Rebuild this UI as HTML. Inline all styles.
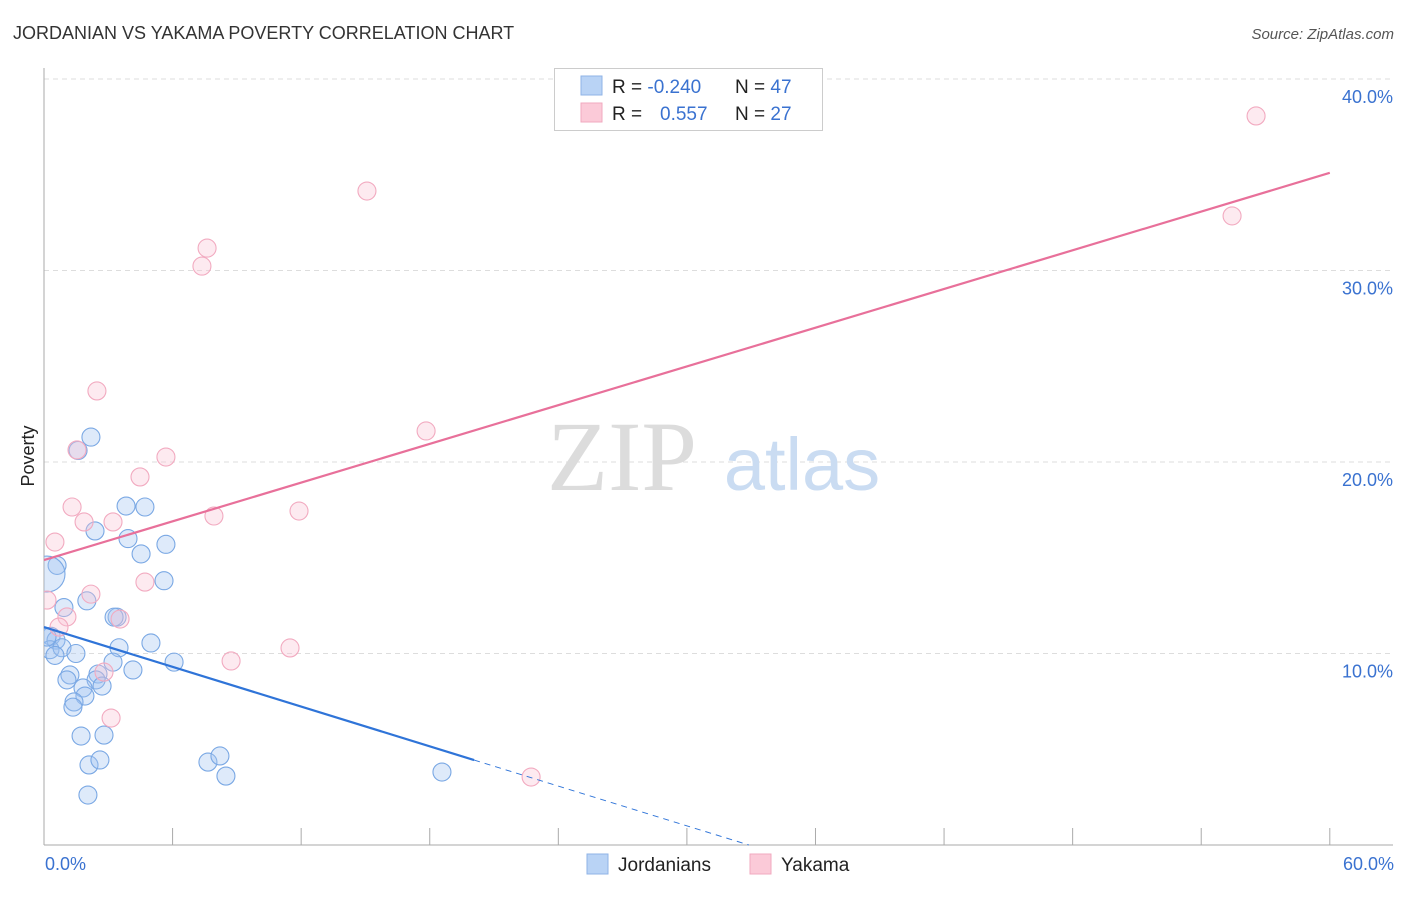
<!DOCTYPE html>
<html><head><meta charset="utf-8"><style>
body{margin:0;background:#fff;font-family:"Liberation Sans",sans-serif}
</style></head><body>
<svg id="chart" width="1406" height="892" viewBox="0 0 1406 892" xmlns="http://www.w3.org/2000/svg" font-family="Liberation Sans, sans-serif">
<defs><clipPath id="plotclip"><rect x="44" y="60" width="1360" height="785"/></clipPath></defs>
<text x="13" y="39" font-size="18" fill="#333">JORDANIAN VS YAKAMA POVERTY CORRELATION CHART</text>
<text x="1394" y="39" font-size="15" fill="#555" text-anchor="end" font-style="italic">Source: ZipAtlas.com</text>
<g id="grid"></g>
<g id="axes"></g>
<text x="622" y="490" font-size="100" style="font-family:'Liberation Serif',serif" fill="#dcdcdc" text-anchor="middle">ZIP</text>
<text x="802" y="490" font-size="74" fill="#cadcf2" text-anchor="middle">atlas</text>
<g id="pts" clip-path="url(#plotclip)"></g>
<g id="lines"></g>
<text transform="translate(34,456) rotate(-90)" font-size="18" fill="#222" text-anchor="middle">Poverty</text>
<text x="45" y="870" font-size="18" fill="#3a72d0">0.0%</text>
<text x="1394" y="870" font-size="18" fill="#3a72d0" text-anchor="end">60.0%</text>
<g>
<rect x="554.5" y="68.5" width="268" height="62" fill="#fff" stroke="#ccc"/>
<rect x="581" y="76" width="21" height="19" fill="#b9d3f5" stroke="#8fb3e6"/>
<rect x="581" y="103" width="21" height="19" fill="#fbcad8" stroke="#f0a9bf"/>
<text x="612" y="93" font-size="19" fill="#222">R = <tspan fill="#3a72d0">-0.240</tspan><tspan x="735">N = </tspan><tspan fill="#3a72d0">47</tspan></text>
<text x="612" y="120" font-size="19" fill="#222">R = <tspan x="660" fill="#3a72d0">0.557</tspan><tspan x="735">N = </tspan><tspan fill="#3a72d0">27</tspan></text>
</g>
<g>
<rect x="587" y="854" width="21" height="20" fill="#b9d3f5" stroke="#8fb3e6"/>
<text x="618" y="871" font-size="19" fill="#222">Jordanians</text>
<rect x="750" y="854" width="21" height="20" fill="#fbcad8" stroke="#f0a9bf"/>
<text x="781" y="871" font-size="19" fill="#222">Yakama</text>
</g>
</svg>
<script>
const yTicks=[10,20,30,40];
const yTickLabels=["10.0%","20.0%","30.0%","40.0%"];
const xTicks=[6,12,18,24,30,36,42,48,54,60];
const jordX=[2.19,1.59,3.83,4.71,2.38,3.92,5.69,4.53,0.61,5.6,2.0,0.93,3.41,3.27,3.5,4.99,0.33,0.56,0.28,0.84,0.51,1.49,3.22,6.07,4.15,2.52,1.21,1.07,2.43,1.82,2.71,1.91,1.4,1.35,1.73,2.8,2.1,2.61,7.65,8.21,8.49,2.05,18.57,0.14,0.14];
const jordY=[21.3,20.6,17.7,17.65,16.4,16.0,15.7,15.2,14.6,13.8,12.75,12.4,11.9,11.9,10.3,10.55,10.9,10.7,10.2,10.3,9.9,10.0,9.55,9.55,9.14,8.93,8.88,8.62,8.62,8.2,8.3,7.78,7.47,7.2,5.69,5.74,4.18,4.44,4.33,4.65,3.6,2.61,3.81,10.86,14.15];
const jordSize=[1,1,1,1,1,1,1,1,1,1,1,1,1,1,1,1,1,1,1,1,1,1,1,1,1,1,1,1,1,1,1,1,1,1,1,1,1,1,1,1,1,1,1,1,2];
const yakX=[56.56,55.44,15.07,7.61,7.37,2.47,1.54,5.69,17.83,4.48,1.31,7.93,11.9,0.51,3.22,1.87,4.71,2.19,0.14,1.07,0.7,3.55,8.73,11.48,2.8,3.13,22.73];
const yakY=[38.07,32.85,34.15,31.17,30.23,23.71,20.63,20.26,21.62,19.22,17.65,17.18,17.44,15.82,16.87,16.87,13.73,13.1,12.79,11.91,11.38,11.8,9.61,10.29,9.03,6.63,3.55];
const jordTrend=[11.38,-0.346];
const yakTrend=[14.88,0.337];
const NS="http://www.w3.org/2000/svg";
const sx=v=>44+v*21.43, sy=v=>845-v*19.15;
function mk(t,a,p){const e=document.createElementNS(NS,t);for(const k in a)e.setAttribute(k,a[k]);p.appendChild(e);return e;}
const grid=document.getElementById('grid'),axes=document.getElementById('axes');
yTicks.forEach((v,i)=>{
 const l=mk('line',{x1:44,x2:1393,y1:sy(v),y2:sy(v),stroke:'#ddd','stroke-dasharray':'5,4'},grid);
 
 
 const t=mk('text',{x:1393,y:sy(v)+24,'font-size':18,fill:'#3a72d0','text-anchor':'end'},grid);
 t.textContent=yTickLabels[i];
 
 
});
mk('line',{x1:44,x2:44,y1:68,y2:845,stroke:'#aaa'},axes);
mk('line',{x1:44,x2:1393,y1:845,y2:845,stroke:'#aaa'},axes);
xTicks.forEach(v=>{
 const l=mk('line',{x1:sx(v),x2:sx(v),y1:828,y2:845,stroke:'#aaa'},axes);
 
 
});
const pts=document.getElementById('pts');
jordX.forEach((x,i)=>{
 const c=mk('circle',{cx:sx(x),cy:sy(jordY[i]),r:9*jordSize[i],fill:'rgba(160,195,240,0.35)',stroke:'#7aa8e4','stroke-width':1.1},pts);
 
 
});
yakX.forEach((x,i)=>{
 const c=mk('circle',{cx:sx(x),cy:sy(yakY[i]),r:9,fill:'rgba(250,195,212,0.35)',stroke:'#f2aac0','stroke-width':1.1},pts);
 
 
});
const lines=document.getElementById('lines');
const jt=x=>jordTrend[0]+jordTrend[1]*x, yt=x=>yakTrend[0]+yakTrend[1]*x;
const l1=mk('line',{x1:sx(0),y1:sy(jt(0)),x2:sx(20.07),y2:sy(jt(20.07)),stroke:'#2f74d8','stroke-width':2.2},lines);


const x0=-jordTrend[0]/jordTrend[1];
const l2=mk('line',{x1:sx(20.07),y1:sy(jt(20.07)),x2:sx(x0),y2:sy(0),stroke:'#2f74d8','stroke-width':1,'stroke-dasharray':'6,5'},lines);


const l3=mk('line',{x1:sx(0),y1:sy(yt(0)),x2:sx(60),y2:sy(yt(60)),stroke:'#e8709a','stroke-width':2.2},lines);


</script>
</body></html>
